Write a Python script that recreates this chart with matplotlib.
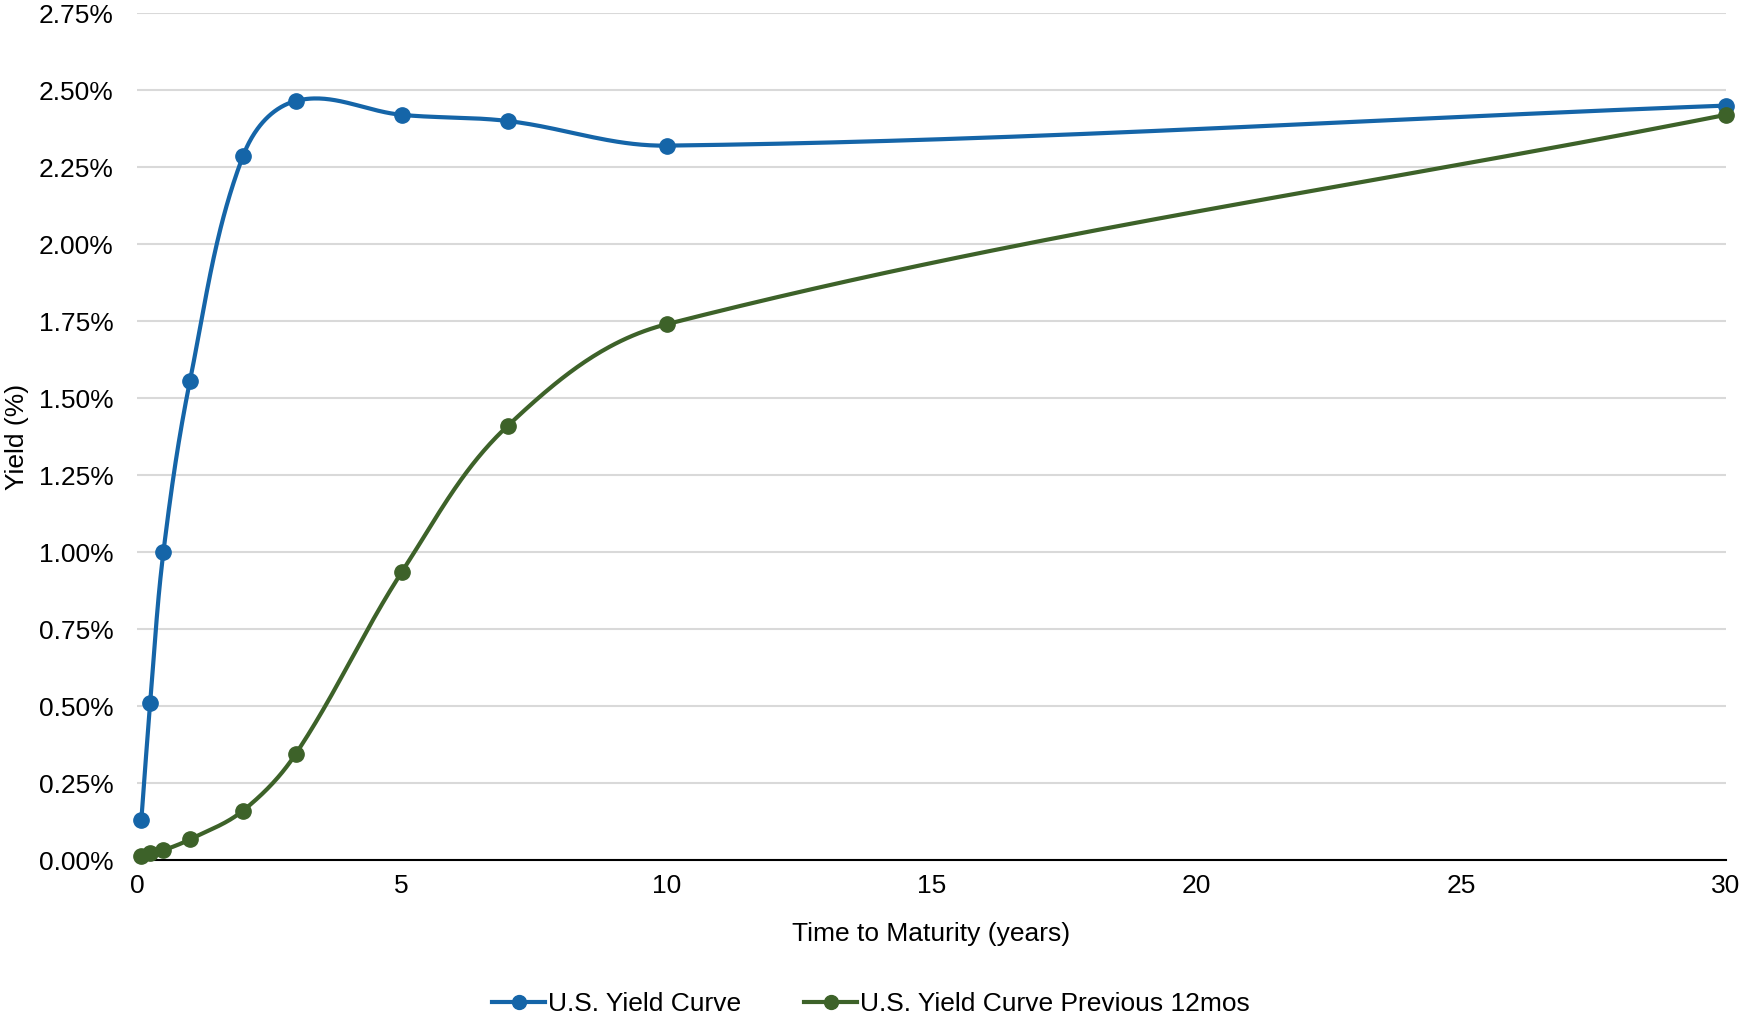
import numpy as np
import matplotlib
matplotlib.use("Agg")
import matplotlib.pyplot as plt
from matplotlib.ticker import FuncFormatter

plt.rcParams['font.family'] = ['Liberation Sans', 'DejaVu Sans']

# maturities in years (1m, 3m, 6m, 1y, 2y, 3y, 5y, 7y, 10y, 30y)
maturity = [1 / 12, 0.25, 0.5, 1, 2, 3, 5, 7, 10, 30]
yield_now = [0.13, 0.51, 1.00, 1.555, 2.285, 2.465, 2.42, 2.40, 2.32, 2.45]
yield_prev = [0.012, 0.022, 0.032, 0.067, 0.16, 0.345, 0.935, 1.41, 1.74, 2.42]

labels = ['U.S. Yield Curve', 'U.S. Yield Curve Previous 12mos']
colors = ['#1565a8', '#3d6229']

XMAX, YMAX = 30, 2.75


def smooth(x, y, sx=1589 / XMAX, sy=847 / YMAX, n=60):
    # smoothed line through the points, bezier segments in pixel space
    p = np.column_stack([np.asarray(x) * sx, np.asarray(y) * sy])
    tang = []
    for i in range(len(p)):
        a = p[max(i - 1, 0)]
        b = p[min(i + 1, len(p) - 1)]
        d = b - a
        tang.append(d / np.hypot(*d))
    out = [p[0]]
    for i in range(len(p) - 1):
        L = np.hypot(*(p[i + 1] - p[i]))
        c1 = p[i] + tang[i] * L * 0.35
        c2 = p[i + 1] - tang[i + 1] * L * 0.35
        t = np.linspace(0, 1, n)[1:, None]
        seg = ((1 - t) ** 3 * p[i] + 3 * (1 - t) ** 2 * t * c1
               + 3 * (1 - t) * t ** 2 * c2 + t ** 3 * p[i + 1])
        out.extend(seg)
    out = np.array(out)
    return out[:, 0] / sx, out[:, 1] / sy


fig = plt.figure(figsize=(17.42, 10.16), dpi=100)
ax = fig.add_axes([0.0786, 0.1535, 0.9122, 0.8335])

handles = []
for ys, lab, col in zip([yield_now, yield_prev], labels, colors):
    sxs, sys_ = smooth(maturity, ys)
    ax.plot(sxs, sys_, color=col, lw=3.0, zorder=3, clip_on=False)
    ax.plot(maturity, ys, 'o', color=col, ms=11, zorder=4, clip_on=False)
    h, = ax.plot([], [], '-o', color=col, lw=3.0, ms=10, label=lab)
    handles.append(h)

ax.set_xlim(0, XMAX)
ax.set_ylim(0, YMAX)
ax.set_xticks(np.arange(0, 31, 5))
ax.set_yticks(np.arange(0, 2.76, 0.25))
ax.yaxis.set_major_formatter(FuncFormatter(lambda v, _: f"{v:.2f}%"))
ax.grid(axis='y', color='#d9d9d9', lw=1.5)
ax.set_axisbelow(True)
for s in ['top', 'right', 'left']:
    ax.spines[s].set_visible(False)
ax.spines['bottom'].set_color('black')
ax.spines['bottom'].set_linewidth(1.5)
ax.spines['bottom'].set_zorder(2)
ax.tick_params(axis='both', length=0, labelsize=19)
ax.tick_params(axis='x', pad=10)
ax.tick_params(axis='y', pad=17)

ax.set_xlabel('Time to Maturity (years)', fontsize=19, labelpad=17)
ax.set_ylabel('Yield (%)', fontsize=19, labelpad=7)

fig.legend(handles=handles, loc='center', bbox_to_anchor=(0.5, 0.012), ncol=2,
           frameon=False, fontsize=19, handlelength=2.0, handletextpad=0.1,
           columnspacing=2.4, borderpad=0)

fig.savefig('out.png', dpi=100)
